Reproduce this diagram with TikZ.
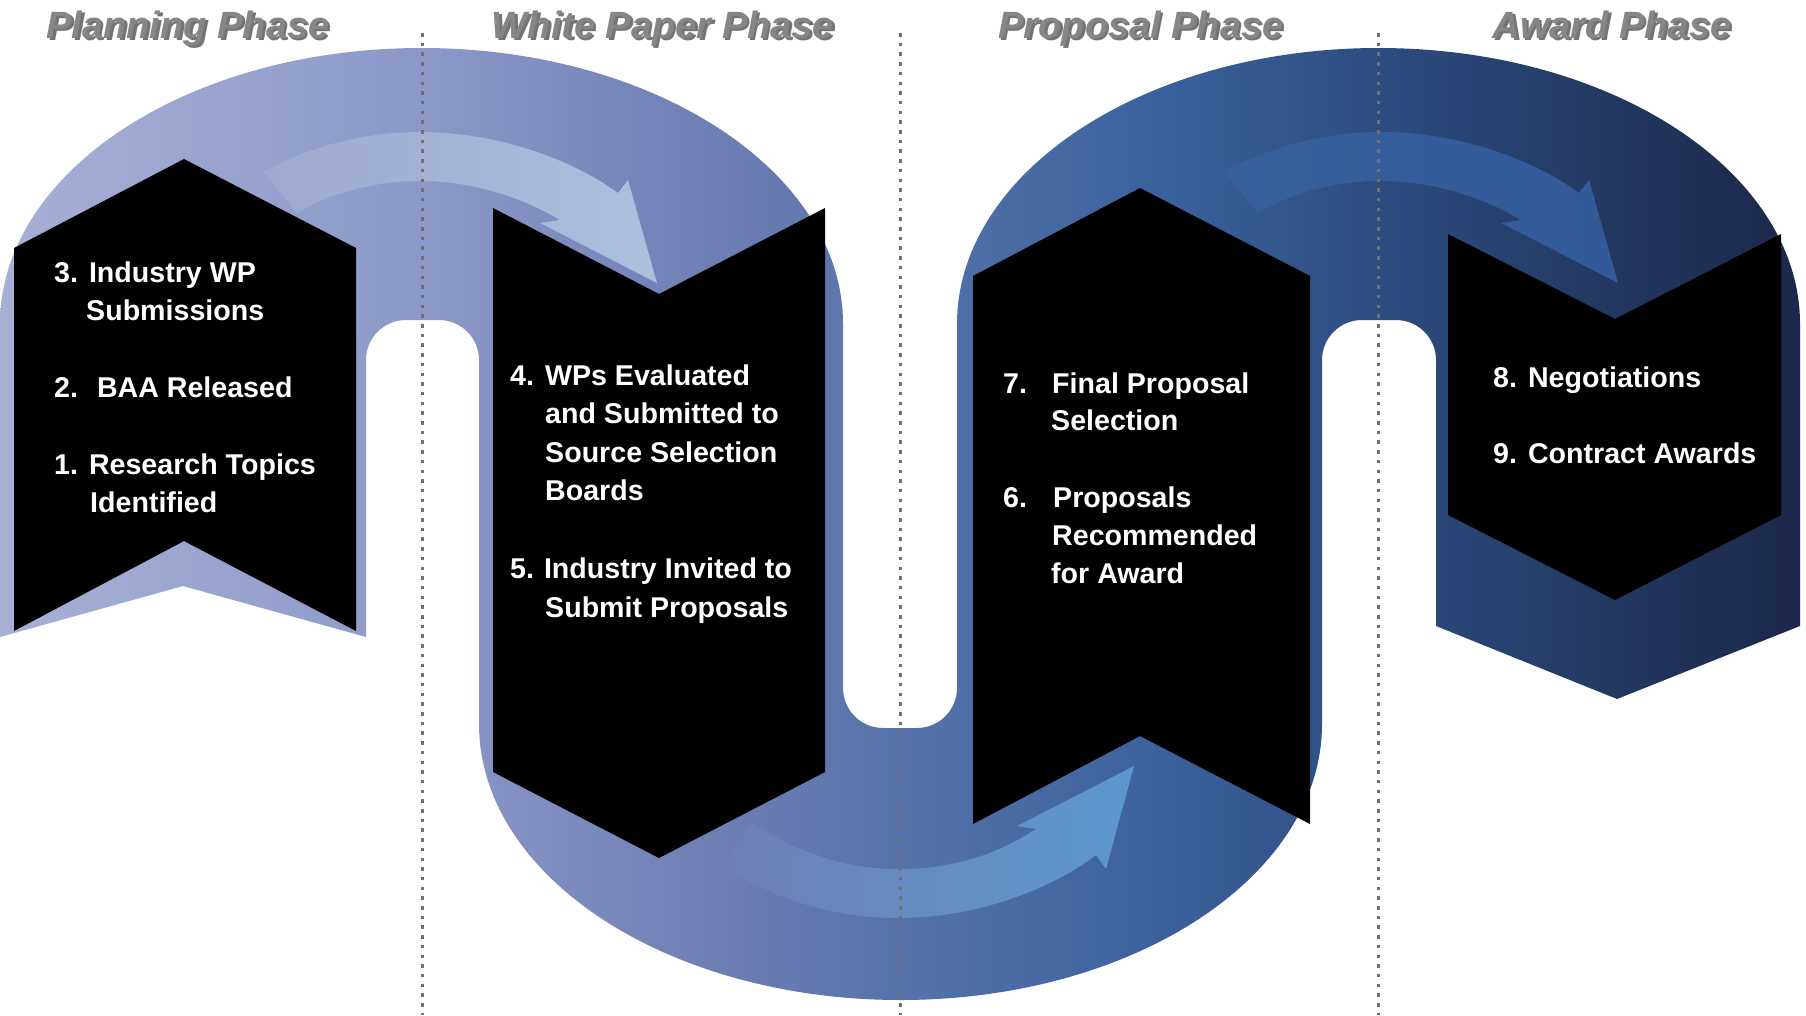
\documentclass[tikz,border=0pt]{standalone}
\usepackage{fontspec}
\setmainfont{Liberation Sans}
\newfontfamily\titlefam{Liberation Sans}
\newcommand\bodyfnt{\fontsize{28.6}{34}\selectfont\bfseries}
\newcommand\titlefnt{\titlefam\fontsize{38}{44}\selectfont\bfseries\itshape}
\definecolor{titlegray}{RGB}{134,134,134}
\definecolor{shadowgray}{RGB}{70,70,70}
\definecolor{dotgray}{RGB}{112,112,112}
\pgfdeclarehorizontalshading{ribbonshade}{100bp}{rgb(0bp)=(0.655,0.690,0.835); rgb(25bp)=(0.655,0.690,0.835); rgb(36.67bp)=(0.549,0.600,0.784); rgb(44.44bp)=(0.439,0.502,0.710); rgb(50bp)=(0.337,0.447,0.667); rgb(56.94bp)=(0.235,0.384,0.620); rgb(63.33bp)=(0.176,0.298,0.502); rgb(69.44bp)=(0.137,0.224,0.384); rgb(75bp)=(0.106,0.153,0.290); rgb(100bp)=(0.106,0.153,0.290)}
\begin{document}
\begin{tikzpicture}[x=1pt,y=-1pt,
  itemtext/.style={text=white, font=\bodyfnt, anchor=base west, inner sep=0pt},
  phasetitle/.style={text=titlegray, font=\titlefnt, anchor=base, inner sep=0pt},
  phaseshadow/.style={text=shadowgray, text opacity=0.75, font=\titlefnt, anchor=base, inner sep=0pt},
  chevron/.style={fill=black},
  divider/.style={draw=dotgray, line width=3pt, dash pattern=on 3.5pt off 6.2pt}]
\useasboundingbox (0,0) rectangle (1806,1015);
\fill[white] (0,0) rectangle (1806,1015);

% ribbon
\shade[shading=ribbonshade]
  (0,637) -- (0,324) arc[start angle=180, end angle=360, x radius=421.5, y radius=276]
  -- (843,688) arc[start angle=180, end angle=90, radius=40]
  -- (917,728) arc[start angle=90, end angle=0, radius=40]
  -- (957,324) arc[start angle=180, end angle=360, x radius=421.5, y radius=276]
  -- (1800,626) -- (1617,699) -- (1436,626)
  -- (1436,360) arc[start angle=0, end angle=-90, radius=40]
  -- (1362,320) arc[start angle=-90, end angle=-180, radius=40]
  -- (1322,724) arc[start angle=0, end angle=180, x radius=421.5, y radius=276]
  -- (479,360) arc[start angle=0, end angle=-90, radius=40]
  -- (406,320) arc[start angle=-90, end angle=-180, radius=40]
  -- (366,637) -- (183,586) -- cycle;

% inner arrows
\shade[left color={rgb,255:red,158;green,168;blue,208}, right color={rgb,255:red,172;green,192;blue,222}]
  (263,172) .. controls (310,146) and (365,132) .. (420,132)
  .. controls (495,132) and (570,158) .. (618,193)
  -- (628,180) -- (657,283) -- (540,223) -- (560,220)
  .. controls (520,196) and (470,181) .. (420,181)
  .. controls (375,181) and (330,193) .. (297,213) -- cycle;
\begin{scope}[shift={(961,0)}]
\shade[left color={rgb,255:red,55;green,96;blue,157}, right color={rgb,255:red,51;green,89;blue,152}]
  (263,172) .. controls (310,146) and (365,132) .. (420,132)
  .. controls (495,132) and (570,158) .. (618,193)
  -- (628,180) -- (657,283) -- (540,223) -- (560,220)
  .. controls (520,196) and (470,181) .. (420,181)
  .. controls (375,181) and (330,193) .. (297,213) -- cycle;
\end{scope}
\shade[left color={rgb,255:red,110;green,128;blue,180}, right color={rgb,255:red,92;green,152;blue,208}]
  (722,866) .. controls (780,903) and (840,918) .. (899,918)
  .. controls (975,918) and (1050,890) .. (1096,855)
  -- (1106,869) -- (1134,766) -- (1017,826) -- (1036,829)
  .. controls (995,856) and (950,869) .. (899,869)
  .. controls (845,869) and (795,852) .. (752,822) -- cycle;

% chevrons
\fill[chevron] (14,248) -- (184,159) -- (356,248) -- (356,631) -- (184,541) -- (14,631) -- cycle;
\fill[chevron] (493,208) -- (659,294) -- (825,208) -- (825,772) -- (659,858) -- (493,772) -- cycle;
\fill[chevron] (973,276) -- (1140,188) -- (1310,276) -- (1310,824) -- (1140,736) -- (973,824) -- cycle;
\fill[chevron] (1448,234) -- (1615,319) -- (1781,234) -- (1781,515) -- (1615,600) -- (1448,515) -- cycle;

% chevron texts
\node[itemtext] (s3a) at (54,282) {3.\hspace{11pt}Industry WP};
\node[itemtext] (s3b) at (86,320) {Submissions};
\node[itemtext] (s2) at (54,397) {2.\hspace{19pt}BAA Released};
\node[itemtext] (s1a) at (54,474) {1.\hspace{11pt}Research Topics};
\node[itemtext] (s1b) at (90,512) {Identified};

\node[itemtext] (s4a) at (510,385) {4.\hspace{11pt}WPs Evaluated};
\node[itemtext] (s4b) at (545,423) {and Submitted to};
\node[itemtext] (s4c) at (545,462) {Source Selection};
\node[itemtext] (s4d) at (545,500) {Boards};
\node[itemtext] (s5a) at (510,578) {5.\hspace{10pt}Industry Invited to};
\node[itemtext] (s5b) at (545,617) {Submit Proposals};

\node[itemtext] (s7n) at (1003,393) {7.};
\node[itemtext] (s7a) at (1052,393) {Final Proposal};
\node[itemtext] (s7b) at (1051,430) {Selection};
\node[itemtext] (s6n) at (1003,507) {6.};
\node[itemtext] (s6a) at (1053,507) {Proposals};
\node[itemtext] (s6b) at (1052,545) {Recommended};
\node[itemtext] (s6c) at (1051,583) {for Award};

\node[itemtext] (s8) at (1493,387) {8.\hspace{11pt}Negotiations};
\node[itemtext] (s9) at (1493,463) {9.\hspace{11pt}Contract Awards};

% dividers
\coordinate (d1t) at (422,33); \coordinate (d1b) at (422,1015);
\coordinate (d2t) at (900,33); \coordinate (d2b) at (900,1015);
\coordinate (d3t) at (1378,33); \coordinate (d3b) at (1378,1015);
\draw[divider] (d1t) -- (d1b);
\draw[divider] (d2t) -- (d2b);
\draw[divider] (d3t) -- (d3b);

% titles
\node[phaseshadow] (p1s) at (190.5,40.5) {Planning Phase};
\node[phasetitle] (p1) at (188,38) {Planning Phase};
\node[phaseshadow] (p2s) at (665.5,40.5) {White Paper Phase};
\node[phasetitle] (p2) at (663,38) {White Paper Phase};
\node[phaseshadow] (p3s) at (1143.5,40.5) {Proposal Phase};
\node[phasetitle] (p3) at (1141,38) {Proposal Phase};
\node[phaseshadow] (p4s) at (1614.5,40.5) {Award Phase};
\node[phasetitle] (p4) at (1612,38) {Award Phase};
\end{tikzpicture}
\end{document}
